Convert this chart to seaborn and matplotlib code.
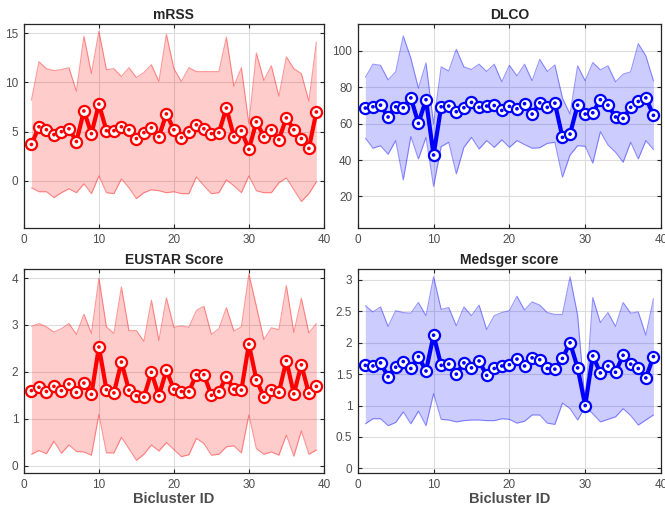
import numpy as np
import pandas as pd
import matplotlib
matplotlib.use("Agg")
import matplotlib.pyplot as plt
import seaborn as sns

bicluster_id = list(range(1, 40))

# mRSS
mrss_mean = [3.7, 5.5, 5.2, 4.7, 5.0, 5.3, 4.0, 7.1, 4.8, 7.8,
             5.1, 5.1, 5.5, 5.2, 4.3, 4.9, 5.4, 4.5, 6.8, 5.2,
             4.4, 5.0, 5.7, 5.3, 4.8, 4.9, 7.4, 4.5, 5.1, 3.2,
             6.0, 4.5, 5.2, 4.2, 6.4, 5.2, 4.3, 3.3, 7.0]
mrss_upper = [8.2, 12.1, 11.4, 11.2, 11.3, 11.5, 9.1, 14.7, 10.9, 15.2,
              11.3, 11.4, 10.6, 11.5, 10.5, 11.0, 11.8, 10.1, 14.9, 11.4,
              10.1, 11.5, 11.1, 11.1, 11.1, 11.1, 14.6, 9.6, 11.5, 5.8,
              13.0, 10.2, 11.7, 8.6, 12.6, 11.4, 10.9, 8.1, 14.1]
mrss_lower = [-0.7, -1.1, -1.1, -1.7, -1.2, -0.8, -1.2, -0.3, -1.3, 0.5,
              -1.2, -1.3, 0.2, -0.7, -1.8, -1.2, -0.9, -1.0, -1.2, -1.1,
              -1.3, -1.3, 0.4, -0.5, -1.3, -1.2, 0.1, -0.5, -1.2, 0.5,
              -1.0, -1.2, -1.2, -0.2, 0.3, -0.9, -2.1, -1.3, -0.1]

# DLCO
dlco_mean = [68.6, 69.3, 70.2, 63.7, 69.3, 68.8, 74.2, 60.2, 73.2, 42.8,
             69.3, 69.7, 66.6, 68.8, 71.7, 69.0, 69.7, 70.0, 67.3, 69.5,
             68.2, 71.0, 65.3, 71.5, 69.0, 71.3, 52.5, 54.3, 70.2, 65.3,
             66.0, 73.2, 70.2, 63.7, 62.9, 69.0, 72.2, 74.2, 64.6]
dlco_upper = [85.4, 92.7, 92.1, 84.1, 88.5, 108.2, 96.0, 79.5, 93.4, 60.0,
              91.2, 89.0, 100.9, 91.2, 89.8, 92.7, 88.7, 92.7, 83.0, 92.1,
              86.3, 92.7, 83.6, 95.4, 88.7, 92.3, 74.1, 65.3, 91.8, 83.6,
              93.6, 89.6, 91.8, 83.0, 87.2, 88.5, 104.0, 97.3, 83.6]
dlco_lower = [52.1, 46.5, 47.9, 43.2, 50.7, 29.1, 52.9, 40.6, 52.5, 25.5,
              47.4, 49.8, 32.4, 47.0, 52.5, 46.1, 50.7, 47.0, 51.1, 47.0,
              50.7, 48.5, 46.5, 46.8, 49.2, 49.8, 30.6, 42.8, 47.9, 47.6,
              38.3, 55.6, 48.3, 44.3, 38.8, 49.8, 40.6, 50.7, 45.8]

# EUSTAR Score
eustar_mean = [1.60, 1.67, 1.58, 1.69, 1.60, 1.74, 1.56, 1.76, 1.52, 2.53,
               1.62, 1.55, 2.21, 1.61, 1.49, 1.46, 1.99, 1.49, 2.03, 1.63,
               1.58, 1.58, 1.94, 1.94, 1.50, 1.58, 1.89, 1.63, 1.61, 2.59,
               1.83, 1.46, 1.62, 1.56, 2.24, 1.53, 2.15, 1.54, 1.69]
eustar_upper = [2.97, 3.03, 2.96, 2.85, 2.92, 3.03, 2.80, 3.23, 2.82, 4.00,
                2.96, 2.82, 3.81, 2.88, 2.88, 2.65, 3.53, 2.67, 3.58, 2.95,
                2.98, 2.95, 3.31, 3.40, 2.80, 2.92, 3.37, 2.87, 2.96, 4.09,
                3.40, 2.69, 2.94, 2.90, 3.84, 2.84, 3.57, 2.83, 3.03]
eustar_lower = [0.24, 0.32, 0.25, 0.52, 0.26, 0.44, 0.30, 0.29, 0.22, 1.09,
                0.27, 0.27, 0.60, 0.36, 0.11, 0.24, 0.44, 0.31, 0.49, 0.34,
                0.19, 0.23, 0.58, 0.47, 0.22, 0.24, 0.40, 0.42, 0.27, 1.08,
                0.36, 0.24, 0.29, 0.22, 0.65, 0.20, 0.74, 0.24, 0.33]

# Medsger score
medsger_mean = [1.64, 1.63, 1.68, 1.46, 1.61, 1.70, 1.59, 1.78, 1.55, 2.12,
                1.64, 1.66, 1.50, 1.68, 1.60, 1.71, 1.48, 1.59, 1.63, 1.65,
                1.74, 1.63, 1.76, 1.73, 1.59, 1.58, 1.75, 2.00, 1.60, 1.00,
                1.79, 1.52, 1.63, 1.53, 1.80, 1.66, 1.59, 1.44, 1.78]
medsger_upper = [2.59, 2.49, 2.57, 2.26, 2.51, 2.48, 2.47, 2.64, 2.43, 3.05,
                 2.53, 2.56, 2.27, 2.57, 2.43, 2.60, 2.21, 2.43, 2.48, 2.51,
                 2.74, 2.52, 2.65, 2.60, 2.48, 2.45, 2.45, 3.05, 2.44, 1.02,
                 2.72, 2.32, 2.48, 2.26, 2.64, 2.47, 2.49, 2.12, 2.70]
medsger_lower = [0.71, 0.79, 0.79, 0.68, 0.73, 0.90, 0.71, 0.91, 0.68, 1.19,
                 0.78, 0.77, 0.74, 0.76, 0.77, 0.77, 0.76, 0.76, 0.79, 0.78,
                 0.72, 0.75, 0.85, 0.85, 0.72, 0.70, 1.04, 0.95, 0.77, 0.98,
                 0.87, 0.74, 0.78, 0.82, 0.95, 0.84, 0.69, 0.77, 0.85]

panels = [
    ("mRSS", mrss_mean, mrss_upper, mrss_lower, "red", (-4.8, 15.9), [0, 5, 10, 15], ["0", "5", "10", "15"]),
    ("DLCO", dlco_mean, dlco_upper, dlco_lower, "blue", (2.6, 114.6), [20, 40, 60, 80, 100], ["20", "40", "60", "80", "100"]),
    ("EUSTAR Score", eustar_mean, eustar_upper, eustar_lower, "red", (-0.16, 4.19), [0, 1, 2, 3, 4], ["0", "1", "2", "3", "4"]),
    ("Medsger score", medsger_mean, medsger_upper, medsger_lower, "blue", (-0.074, 3.17),
     [0, 0.5, 1, 1.5, 2, 2.5, 3], ["0", "0.5", "1", "1.5", "2", "2.5", "3"]),
]

sns.set_style("ticks")
plt.rcParams["font.family"] = ["Liberation Sans", "DejaVu Sans"]

fig = plt.figure(figsize=(6.65, 5.07), dpi=100)
positions = [
    [0.036, 0.550, 0.451, 0.402],
    [0.538, 0.550, 0.456, 0.402],
    [0.036, 0.067, 0.451, 0.402],
    [0.538, 0.067, 0.456, 0.402],
]

for k, (title, mean, upper, lower, col, ylim, yt, ytl) in enumerate(panels):
    ax = fig.add_axes(positions[k])
    df = pd.DataFrame({"id": bicluster_id, "mean": mean, "upper": upper, "lower": lower})

    ax.fill_between(df["id"], df["lower"], df["upper"], color=col, alpha=0.2, lw=0, zorder=1)
    sns.lineplot(data=df, x="id", y="upper", ax=ax, color=col, alpha=0.4, lw=0.8, zorder=2)
    sns.lineplot(data=df, x="id", y="lower", ax=ax, color=col, alpha=0.4, lw=0.8, zorder=2)
    sns.lineplot(data=df, x="id", y="mean", ax=ax, color=col, lw=3, zorder=3,
                 marker="o", markersize=8, markerfacecolor="white",
                 markeredgecolor=col, markeredgewidth=1.6)
    sns.scatterplot(data=df, x="id", y="mean", ax=ax, color=col, s=7, edgecolor="none", zorder=4)

    ax.set_xlim(0, 40)
    ax.set_ylim(*ylim)
    ax.set_xticks([0, 10, 20, 30, 40])
    ax.set_yticks(yt)
    ax.set_yticklabels(ytl)
    ax.grid(True, color="#dcdcdc", lw=0.8, zorder=0)
    ax.set_axisbelow(True)
    ax.tick_params(direction="in", length=3, width=0.8, colors="#262626",
                   labelcolor="#4d4d4d", labelsize=8.5, top=True, right=True, pad=4)
    for s in ax.spines.values():
        s.set_color("#262626")
        s.set_linewidth(0.9)
    ax.set_title(title, fontsize=10, fontweight="bold", pad=4)
    ax.set_ylabel("")
    if k >= 2:
        ax.set_xlabel("Bicluster ID", fontsize=10.5, fontweight="bold", color="#4d4d4d", labelpad=1)
    else:
        ax.set_xlabel("")

fig.savefig("out.png", dpi=100, facecolor="w")
